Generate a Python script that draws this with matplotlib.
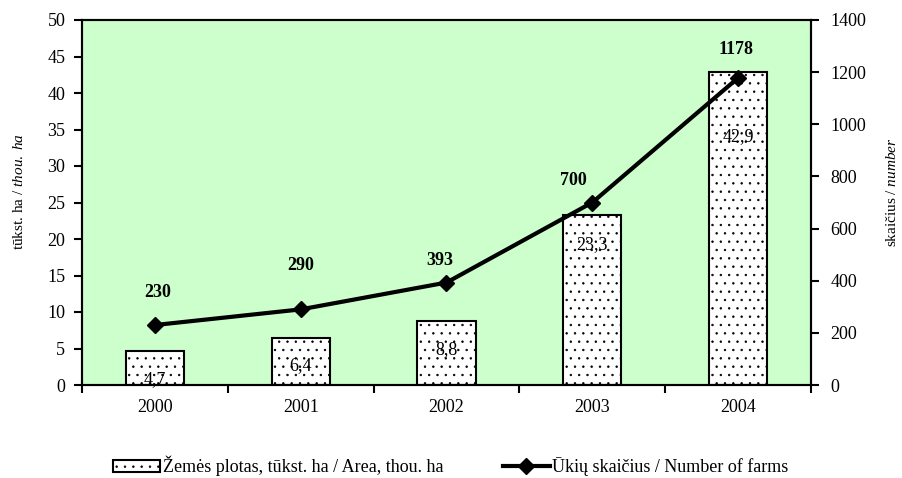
import numpy as np
import matplotlib
matplotlib.use("Agg")
import matplotlib.pyplot as plt

plt.rcParams['font.family'] = ['Liberation Serif', 'DejaVu Serif']
plt.rcParams['font.size'] = 13
plt.rcParams['mathtext.fontset'] = 'custom'
plt.rcParams['mathtext.rm'] = 'Liberation Serif'
plt.rcParams['mathtext.it'] = 'Liberation Serif:italic'
plt.rcParams['hatch.linewidth'] = 0.5

years = ['2000', '2001', '2002', '2003', '2004']
area = [4.7, 6.4, 8.8, 23.3, 42.9]
area_labels = ['4,7', '6,4', '8,8', '23,3', '42,9']
farms = [230, 290, 393, 700, 1178]

# where the text sits (placed by hand in the original)
area_label_y = [0.8, 2.7, 4.8, 19.2, 34.0]
farm_label_off = [(3, 33), (0, 44), (-7, 22), (-19, 22), (-2, 28)]

fig = plt.figure(figsize=(9.03, 4.78), dpi=100)
ax = fig.add_axes([82 / 903, 1 - 385 / 478, 729 / 903, 365 / 478])
ax.set_facecolor('#CCFFCC')

x = np.arange(len(years))
bars = ax.bar(x, area, width=0.4, color='white', edgecolor='black',
              linewidth=1.5, hatch='..', zorder=2,
              label='Žemės plotas, tūkst. ha / Area, thou. ha')
for xi, yl, t in zip(x, area_label_y, area_labels):
    ax.text(xi, yl, t, ha='center', va='center', fontsize=13, zorder=3)

ax.set_xlim(-0.5, 4.5)
ax.set_ylim(0, 50)
ax.set_yticks(np.arange(0, 51, 5))
ax.set_xticks(np.arange(-0.5, 4.6, 1.0))
ax.set_xticklabels([])
ax.set_xticks(x, minor=True)
ax.set_xticklabels(years, minor=True)
ax.tick_params(axis='x', which='minor', length=0, pad=10)
ax.tick_params(axis='x', which='major', length=6, width=1.5, direction='out')
ax.tick_params(axis='y', length=6, width=1.5, direction='out', pad=6)
for s in ax.spines.values():
    s.set_linewidth(1.5)
ax.set_ylabel('tūkst. ha / $\\mathit{thou.\\ ha}$', fontsize=11)
ax.yaxis.set_label_coords(-0.077, 0.529)

ax2 = ax.twinx()
line, = ax2.plot(x, farms, color='black', linewidth=3, marker='D',
                 markersize=8, zorder=4,
                 label='Ūkių skaičius / Number of farms')
ax2.set_ylim(0, 1400)
ax2.set_yticks(np.arange(0, 1401, 200))
ax2.tick_params(axis='y', length=6, width=1.5, direction='out', pad=8)
for s in ax2.spines.values():
    s.set_linewidth(1.5)
ax2.set_ylabel('skaičius / $\\mathit{number}$', fontsize=11)
ax2.yaxis.set_label_coords(1.102, 0.529)
for xi, v, off in zip(x, farms, farm_label_off):
    ax2.annotate(str(v), (xi, v), xytext=off, textcoords='offset pixels',
                 ha='center', va='center', fontweight='bold', fontsize=13)

fig.legend(handles=[bars, line], loc='center left',
           bbox_to_anchor=(113 / 903, 1 - 466 / 478), ncol=2, frameon=False,
           borderpad=0, borderaxespad=0, handlelength=2.6, handleheight=0.7,
           handletextpad=0.15, columnspacing=3.3, fontsize=13)

fig.savefig('out.png', dpi=100)
